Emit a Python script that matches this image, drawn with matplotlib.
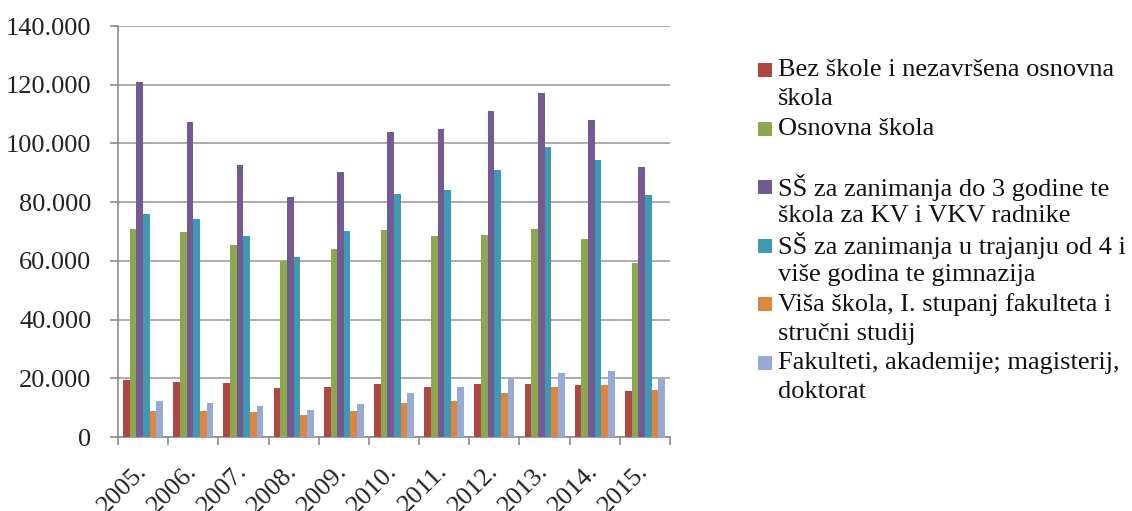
import matplotlib
matplotlib.use("Agg")
import matplotlib.pyplot as plt
import numpy as np
from matplotlib.patches import Rectangle
from matplotlib.ticker import FuncFormatter, FixedLocator

years = ["2005.", "2006.", "2007.", "2008.", "2009.", "2010.", "2011.", "2012.", "2013.", "2014.", "2015."]

bez_skole = [19.3, 18.9, 18.4, 16.7, 17.2, 18.2, 17.2, 18.2, 18.2, 17.6, 15.5]
osnovna = [71.0, 69.7, 65.4, 59.9, 64.0, 70.6, 68.4, 68.9, 71.0, 67.5, 59.2]
ss_3 = [120.9, 107.4, 92.5, 81.6, 90.4, 103.9, 104.8, 110.9, 117.1, 107.9, 92.1]
ss_4 = [75.8, 74.1, 68.4, 61.4, 70.1, 82.8, 84.2, 90.8, 98.7, 94.3, 82.4]
visa = [8.9, 8.9, 8.4, 7.5, 8.9, 11.5, 12.4, 15.0, 17.2, 17.6, 15.9]
fakulteti = [12.1, 11.6, 10.7, 9.3, 11.1, 15.0, 17.2, 20.1, 21.9, 22.4, 20.1]

series = [bez_skole, osnovna, ss_3, ss_4, visa, fakulteti]
labels = [
    ["Bez škole i nezavršena osnovna", "škola"],
    ["Osnovna škola", ""],
    ["SŠ za zanimanja do 3 godine te", "škola za KV i VKV radnike"],
    ["SŠ za zanimanja u trajanju od 4 i", "više godina te gimnazija"],
    ["Viša škola, I. stupanj fakulteta i", "stručni studij"],
    ["Fakulteti, akademije; magisterij,", "doktorat"],
]
colors = ["#AE4643", "#8BA84F", "#735A93", "#4099B2", "#E0853D", "#95ABD5"]

plt.rcParams['font.family'] = ['Liberation Serif', 'DejaVu Serif']
FS = 19

W, H = 1132, 511
fig = plt.figure(figsize=(W / 100, H / 100), dpi=100)
ax = fig.add_axes([118 / W, 1 - 437 / H, (670 - 118) / W, (437 - 26) / H])

n = len(years)
x = np.arange(n)
bw = 0.1326
for i, (vals, c) in enumerate(zip(series, colors)):
    off = (i - 2.5) * bw
    ax.bar(x + off, np.array(vals) * 1000, width=bw, color=c, edgecolor='none', zorder=3)

ax.set_xlim(-0.5, n - 0.5)
ax.set_ylim(0, 140000)
ax.set_yticks(np.arange(0, 140001, 20000))
ax.yaxis.set_major_formatter(FuncFormatter(lambda v, p: "0" if v == 0 else f"{int(v):,}".replace(",", ".")))
ax.grid(axis='y', color='#A6A6A6', linewidth=1.3, zorder=0)
ax.set_axisbelow(True)

for s in ['top', 'right']:
    ax.spines[s].set_visible(False)
for s in ['left', 'bottom']:
    ax.spines[s].set_color('#8C8C8C')
    ax.spines[s].set_linewidth(1.2)

ax.tick_params(axis='y', length=6, width=1.2, color='#8C8C8C', pad=13, labelsize=FS, labelcolor='#222222')
ax.set_xticks(x)
ax.set_xticklabels(years, rotation=45, ha='right', va='center', rotation_mode='anchor', fontsize=FS, color='#222222')
ax.tick_params(axis='x', which='major', length=0, pad=22)
ax.xaxis.set_minor_locator(FixedLocator(np.arange(-0.5, n, 1.0)))
ax.tick_params(axis='x', which='minor', length=6, width=1.2, color='#8C8C8C')

# legend
line_h = 29.3
y0 = 70
for i, (lab, c) in enumerate(zip(labels, colors)):
    yc = y0 + 2 * line_h * i
    fig.patches.append(Rectangle((758 / W, 1 - (yc + 7) / H), 14 / W, 14 / H,
                                 transform=fig.transFigure, facecolor=c, edgecolor='none'))
    for j, t in enumerate(lab):
        if t:
            fig.text(778 / W, 1 - (yc + j * line_h) / H, t, fontsize=FS, va='center', ha='left', color='#111111')

fig.savefig("out.png", dpi=100)
